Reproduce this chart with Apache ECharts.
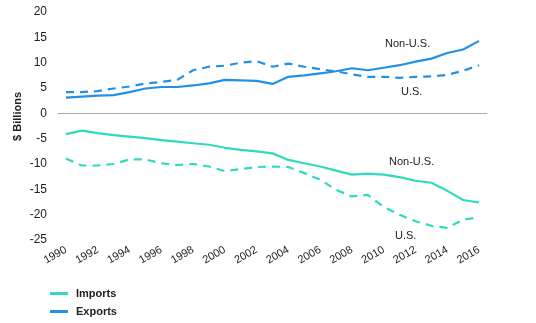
<!DOCTYPE html>
<html>
<head>
<meta charset="utf-8">
<script src="https://cdn.jsdelivr.net/npm/echarts@6/dist/echarts.min.js"></script>
<style>
  html, body { margin: 0; padding: 0; background: #fff; }
  #chart { width: 536px; height: 323px; }
</style>
</head>
<body>
<div id="chart"></div>
<script>
// Trade flows, $ billions, 1990-2016
const years = ['1990','1991','1992','1993','1994','1995','1996','1997','1998','1999','2000','2001','2002','2003','2004','2005','2006','2007','2008','2009','2010','2011','2012','2013','2014','2015','2016'];

const exportsNonUS = [3.1, 3.3, 3.5, 3.6, 4.2, 4.9, 5.2, 5.2, 5.5, 5.9, 6.6, 6.5, 6.4, 5.8, 7.2, 7.5, 7.9, 8.3, 8.9, 8.5, 9.0, 9.5, 10.2, 10.8, 11.9, 12.6, 14.3];
const exportsUS    = [4.2, 4.2, 4.4, 4.9, 5.3, 5.9, 6.2, 6.6, 8.5, 9.2, 9.4, 10.0, 10.3, 9.2, 9.8, 9.2, 8.7, 8.3, 7.7, 7.2, 7.2, 7.0, 7.2, 7.3, 7.6, 8.4, 9.5];
const importsNonUS = [-4.1, -3.4, -3.9, -4.3, -4.6, -4.9, -5.3, -5.6, -5.9, -6.2, -6.8, -7.2, -7.5, -7.9, -9.2, -9.85, -10.5, -11.3, -12.1, -11.9, -12.1, -12.6, -13.3, -13.7, -15.3, -17.1, -17.6];
const importsUS    = [-8.9, -10.3, -10.3, -10.0, -9.1, -9.1, -9.85, -10.2, -10.0, -10.5, -11.4, -11.0, -10.6, -10.5, -10.6, -11.8, -13.1, -15.1, -16.4, -16.1, -18.5, -20.0, -21.3, -22.2, -22.6, -21.0, -20.5];

const yTicks = [-25, -20, -15, -10, -5, 0, 5, 10, 15, 20];

const BLUE = '#2390e3';
const TEAL = '#30dac0';
const FONT = "'Liberation Sans Narrow', 'Arial Narrow', 'Liberation Sans', Arial, sans-serif";
const TEXT = '#222';

function line(name, data, color, dashed) {
  return {
    name: name,
    type: 'line',
    data: data,
    symbol: 'none',
    smooth: false,
    silent: true,
    lineStyle: { color: color, width: 2.2, type: dashed ? [8, 6] : 'solid' },
    itemStyle: { color: color }
  };
}

function legendItem(name, color, top) {
  return {
    left: 50,
    top: top,
    padding: 0,
    itemWidth: 18,
    itemHeight: 3,
    icon: 'rect',
    selectedMode: false,
    textStyle: { color: TEXT, fontFamily: FONT, fontSize: 11, fontWeight: 'bold', padding: [0, 0, 0, 3] },
    data: [{ name: name, itemStyle: { color: color } }]
  };
}

const chart = echarts.init(document.getElementById('chart'), null, { renderer: 'canvas' });

chart.setOption({
  animation: false,
  backgroundColor: '#fff',
  grid: { left: 58, right: 49, top: 12, bottom: 83, containLabel: false },
  xAxis: {
    type: 'category',
    data: years,
    boundaryGap: true,
    axisLine: { onZero: true, lineStyle: { color: '#aaa', width: 1 } },
    axisTick: { show: false },
    axisLabel: {
      interval: 1,
      rotate: 30,
      color: TEXT,
      fontFamily: FONT,
      fontSize: 11,
      margin: 9
    },
    splitLine: { show: false }
  },
  yAxis: {
    type: 'value',
    min: yTicks[0],
    max: yTicks[yTicks.length - 1],
    interval: 5,
    axisLine: { show: false },
    axisTick: { show: false },
    splitLine: { show: false },
    axisLabel: { color: TEXT, fontFamily: FONT, fontSize: 12, margin: 11 }
  },
  legend: [
    legendItem('Imports', TEAL, 288),
    legendItem('Exports', BLUE, 306)
  ],
  series: [
    line('Exports', exportsNonUS, BLUE, false),
    line('Exports', exportsUS, BLUE, true),
    line('Imports', importsNonUS, TEAL, false),
    line('Imports', importsUS, TEAL, true)
  ],
  graphic: [
    {
      type: 'text', left: 12, top: 92, rotation: Math.PI / 2, originX: 0, originY: 0,
      style: { text: '$ Billions', fill: TEXT, font: "bold 11px " + FONT }
    },
    { type: 'text', left: 385, top: 38, style: { text: 'Non-U.S.', fill: TEXT, font: "11px " + FONT } },
    { type: 'text', left: 401, top: 86, style: { text: 'U.S.', fill: TEXT, font: "11px " + FONT } },
    { type: 'text', left: 389, top: 156, style: { text: 'Non-U.S.', fill: TEXT, font: "11px " + FONT } },
    { type: 'text', left: 395, top: 230, style: { text: 'U.S.', fill: TEXT, font: "11px " + FONT } }
  ]
});
</script>
</body>
</html>
